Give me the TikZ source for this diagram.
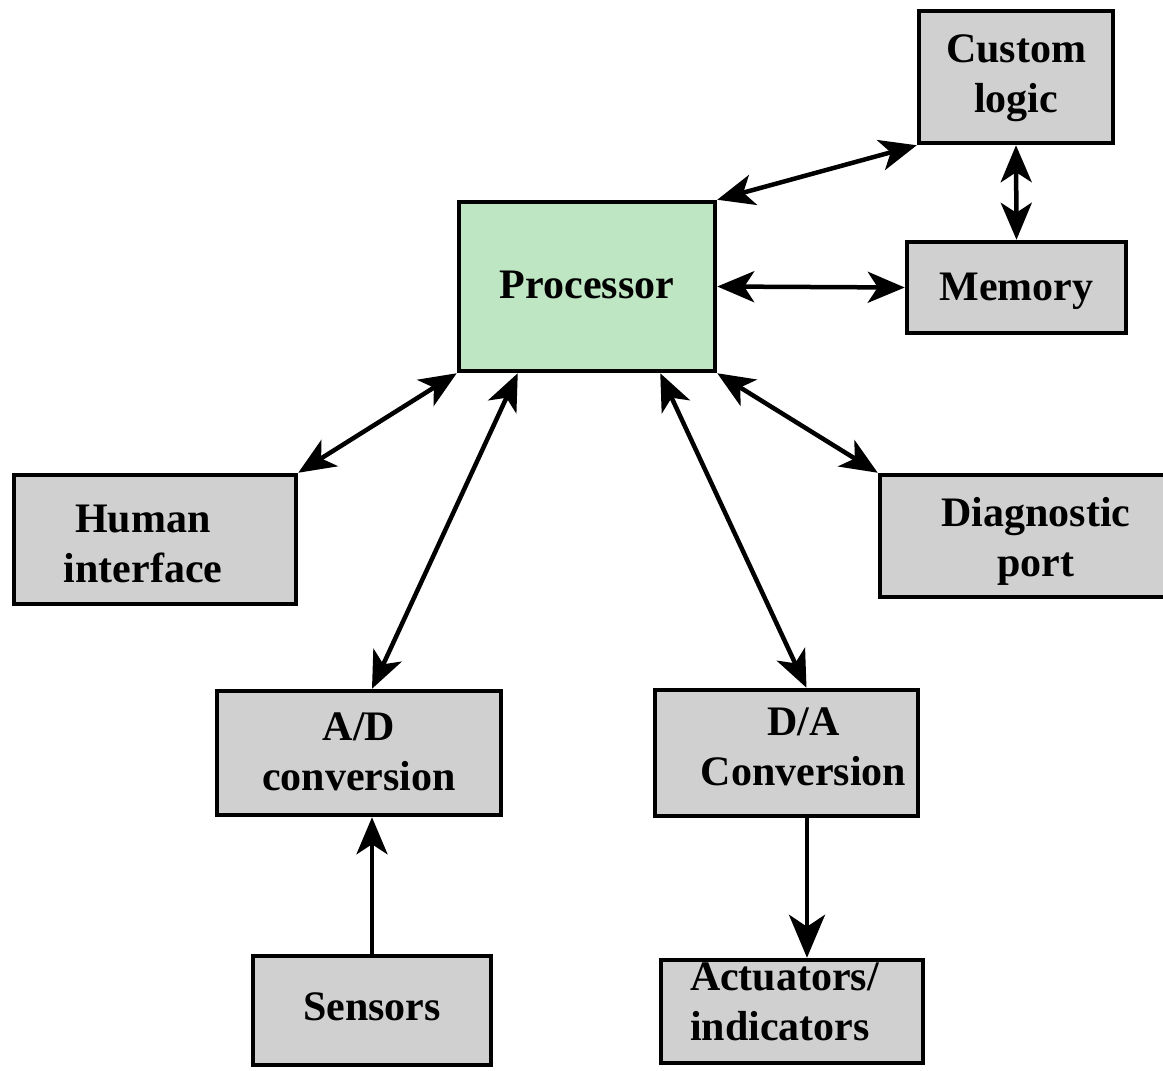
\documentclass[tikz,border=0pt]{standalone}
\usepackage{fontspec}
\setmainfont{Liberation Serif}
\usetikzlibrary{arrows.meta,calc}
\definecolor{boxgray}{RGB}{208,208,208}
\definecolor{procgreen}{RGB}{190,230,194}
\newcommand\lbl[3]{\makebox[0pt]{\kern#1\kern#1\begin{tabular}[t]{@{}#2@{}}#3\end{tabular}}}
\begin{document}
\begin{tikzpicture}[x=1pt,y=-1pt,
  every node/.style={font=\fontsize{42}{50}\selectfont\bfseries},
  blk/.style={draw=black, line width=4.5pt, fill=boxgray, inner sep=0pt, rectangle},
  proc/.style={blk, fill=procgreen},
  two/.style={text height={35pt+#1}, text depth={65pt-#1}},
  one/.style={text height={35pt+#1}, text depth={15pt-#1}},
  >={Stealth[length=37pt,width=31pt,inset=10pt]},
  link/.style={line width=4.5pt, <->},
  flow/.style={line width=4.5pt, ->},
]
\useasboundingbox (0,0) rectangle (1163,1071);

\node[proc, one=1.5pt, minimum width=256pt, minimum height=169pt] (proc) at (587,286.5) {\lbl{0pt}{c}{Processor}};
\node[blk, two=0pt, minimum width=194pt, minimum height=132pt] (cust) at (1016,77) {\lbl{0pt}{c}{Custom\\logic}};
\node[blk, one=2.5pt, minimum width=219pt, minimum height=91pt] (mem) at (1016.5,287.5) {\lbl{0pt}{c}{Memory}};
\node[blk, two=7.5pt, minimum width=282pt, minimum height=129pt] (hum) at (155,539.5) {\lbl{-12pt}{c}{Human\\interface}};
\node[blk, two=5pt, minimum width=292pt, minimum height=122pt] (diag) at (1026,536) {\lbl{10pt}{c}{Diagnostic\\port}};
\node[blk, two=2pt, minimum width=284pt, minimum height=124pt] (ad) at (359,753) {\lbl{0pt}{c}{A/D\\conversion}};
\node[blk, two=-3pt, minimum width=263pt, minimum height=126pt] (da) at (786.5,753) {\lbl{17pt}{c}{D/A\\Conversion}};
\node[blk, one=-0.5pt, minimum width=238pt, minimum height=109pt] (sens) at (372,1010.5) {\lbl{0pt}{c}{Sensors}};
\node[blk, two=-6.5pt, minimum width=262pt, minimum height=103pt] (act) at (792,1011.5) {\lbl{-7.5pt}{l}{Actuators/\\indicators}};

\draw[link] (proc.north east) -- (cust.south west);
\draw[link] (proc.east) -- (mem.west);
\draw[link] (cust.south) -- (mem.north);
\draw[link] (proc.south west) -- (hum.north east);
\draw[link] (proc.south east) -- (diag.north west);
\draw[link] ([xshift=61pt]proc.south west) -- ([xshift=13pt]ad.north);
\draw[link] ([xshift=-57pt]proc.south east) -- ([xshift=20pt]da.north);
\draw[flow] (sens.north) -- (sens.north |- ad.south);
\coordinate (actin) at ([xshift=15pt]act.north);
\draw[flow, >={Stealth[length=43pt,width=36pt,inset=12pt]}] (actin |- da.south) -- (actin);
\end{tikzpicture}
\end{document}
